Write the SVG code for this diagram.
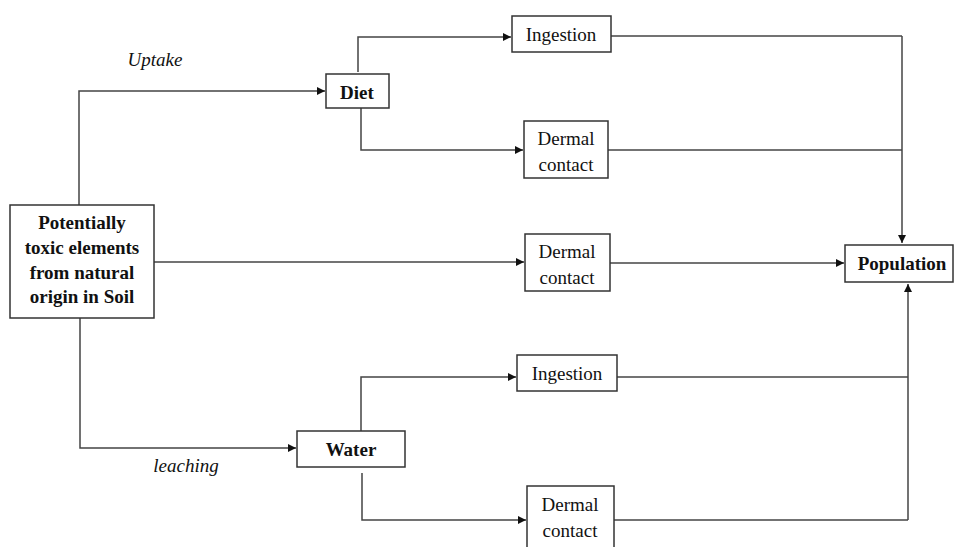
<svg xmlns="http://www.w3.org/2000/svg" width="955" height="547" viewBox="0 0 955 547">
<style>
.box{fill:#fff;stroke:#333;stroke-width:1.5}
.t{font-family:"Liberation Serif","Times New Roman",serif;font-size:19px;fill:#111;text-anchor:middle}
.b{font-weight:bold}
.i{font-style:italic}
.c{fill:none;stroke:#444;stroke-width:1.5}
</style>
<defs>
<marker id="ah" viewBox="0 0 10 10" refX="10" refY="5" markerWidth="9" markerHeight="8" markerUnits="userSpaceOnUse" orient="auto">
<path d="M0,0 L10,5 L0,10 Z" fill="#111"/>
</marker>
</defs>
<rect width="955" height="547" fill="#fff"/>
<g id="connectors">
<path class="c" d="M79,205 V91 H325" marker-end="url(#ah)"/>
<path class="c" d="M80,318 V448 H296" marker-end="url(#ah)"/>
<path class="c" d="M154,262 H524" marker-end="url(#ah)"/>
<path class="c" d="M358,72 V37 H511" marker-end="url(#ah)"/>
<path class="c" d="M361,108 V150 H523" marker-end="url(#ah)"/>
<path class="c" d="M361,431 V377 H516" marker-end="url(#ah)"/>
<path class="c" d="M362,473 V520 H526" marker-end="url(#ah)"/>
<path class="c" d="M611,36 H902"/>
<path class="c" d="M608,150 H902"/>
<path class="c" d="M902,36 V243" marker-end="url(#ah)"/>
<path class="c" d="M610,263 H844" marker-end="url(#ah)"/>
<path class="c" d="M617,377 H908"/>
<path class="c" d="M614,520 H908"/>
<path class="c" d="M908,520 V284" marker-end="url(#ah)"/>
<text class="t i" x="155" y="66">Uptake</text>
<text class="t i" x="186" y="472">leaching</text>
</g>
<g id="soil">
<rect class="box" x="10" y="205" width="144" height="113"/>
<text class="t b" x="82" y="229">Potentially</text>
<text class="t b" x="82" y="254">toxic elements</text>
<text class="t b" x="82" y="279">from natural</text>
<text class="t b" x="82" y="303">origin in Soil</text>
</g>
<g id="diet">
<rect class="box" x="326" y="74" width="63" height="34"/>
<text class="t b" x="357" y="99">Diet</text>
</g>
<g id="ingestion1">
<rect class="box" x="512" y="16" width="99" height="36"/>
<text class="t" x="561" y="41">Ingestion</text>
</g>
<g id="dermal1">
<rect class="box" x="524" y="121" width="84" height="57"/>
<text class="t" x="566" y="145">Dermal</text>
<text class="t" x="566" y="171">contact</text>
</g>
<g id="dermal2">
<rect class="box" x="525" y="234" width="85" height="57"/>
<text class="t" x="567" y="258">Dermal</text>
<text class="t" x="567" y="284">contact</text>
</g>
<g id="population">
<rect class="box" x="845" y="245" width="108" height="37"/>
<text class="t b" x="902" y="270">Population</text>
</g>
<g id="water">
<rect class="box" x="297" y="431" width="108" height="36"/>
<text class="t b" x="351" y="456">Water</text>
</g>
<g id="ingestion2">
<rect class="box" x="517" y="355" width="100" height="36"/>
<text class="t" x="567" y="380">Ingestion</text>
</g>
<g id="dermal3">
<rect class="box" x="527" y="486" width="87" height="66"/>
<text class="t" x="570" y="511">Dermal</text>
<text class="t" x="570" y="537">contact</text>
</g>
</svg>
